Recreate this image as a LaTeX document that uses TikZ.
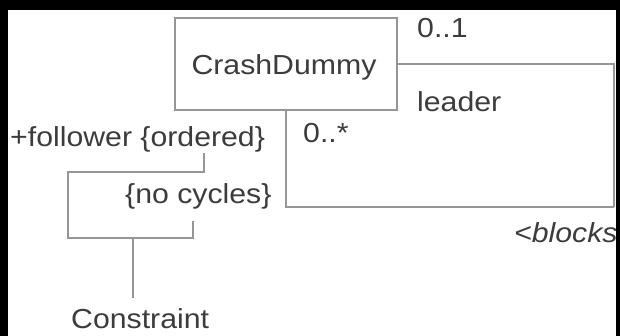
\documentclass[tikz,border=0pt]{standalone}
\usepackage{fontspec}
\setmainfont{Liberation Sans}[FakeStretch=1.1]
\usepackage{tikz}
\usetikzlibrary{positioning}
\definecolor{linegray}{RGB}{150,150,150}
\definecolor{textgray}{RGB}{60,60,60}
\tikzset{
	classbox/.style = {draw=linegray, line width=2pt, rectangle, minimum width=222pt,
		minimum height=92pt, inner sep=0pt},
	lbl/.style      = {text=textgray, inner sep=0pt, anchor=base west},
	wire/.style     = {draw=linegray, line width=2pt}
}
\newcommand{\lblfont}{\fontsize{27.5}{31}\selectfont}

\begin{document}
\begin{tikzpicture}[x=1pt, y=-1pt, font=\lblfont]

	\useasboundingbox (0,0) rectangle (620,336);
	\fill[white] (0,0) rectangle (620,336);

	\draw
	% the class and the ends of its association
	node at (286,64) [classbox] (dummy) {}
	node at (284,75) [lbl, anchor=base] (name) {CrashDummy}
	node at (417,38) [lbl] (mult1) {0..1}
	node at (417,112) [lbl] (role1) {leader}
	node at (303,143) [lbl] (mult2) {0..*}
	node at (514,243) [lbl] (assoc) {\itshape <blocks}
	% the constraint on the follower end
	node at (10,147) [lbl] (role2) {+follower \{ordered\}}
	node at (125,204) [lbl] (nocyc) {\{no cycles\}}
	node at (71,328) [lbl] (constr) {Constraint};

	\coordinate (cnr) at (614,207);
	\coordinate (t1) at (204,153);
	\coordinate (t2) at (193,221);
	\coordinate (brk) at (68,205);
	\coordinate (stem) at (133,238);

	\draw[wire](dummy.east) -| (cnr);
	\draw[wire](cnr) -| (dummy.south);
	\draw[wire](t1) |- (brk |- 0,172) -- (brk |- stem) -| (t2);
	\draw[wire](stem) -- (stem |- 0,298);

	% black frame round the picture
	\fill[black] (0,0) rectangle (620,10);
	\fill[black] (0,0) rectangle (8,336);
	\fill[black] (616,0) rectangle (620,336);

\end{tikzpicture}
\end{document}
